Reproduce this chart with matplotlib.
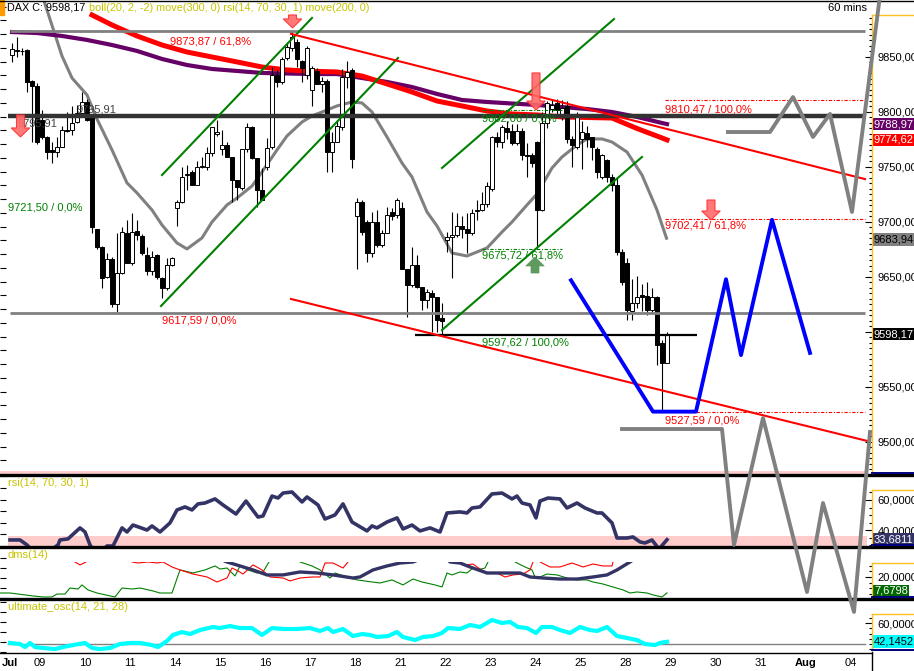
# -*- coding: utf-8 -*-
"""
DAX 60 mins chart: candles, boll / move lines, drawn trend lines,
rsi, dms and ultimate oscillator panels
"""

import numpy as np
import matplotlib
matplotlib.use("Agg")
import matplotlib.pyplot as plt
from matplotlib.lines import Line2D
from matplotlib.patches import Rectangle, Polygon
from matplotlib.ticker import FixedLocator, FuncFormatter, NullFormatter

plt.rcParams['font.family'] = ['Liberation Sans', 'DejaVu Sans']

W = 914
H = 671
DPI = 100

# ---------------- hourly candles (bar 0 = Jul 08, last bar = Jul 29) ----------------
opens = [9852, 9855, 9855.5, 9856, 9828, 9824, 9793, 9777, 9765, 9764,
         9768, 9784, 9784, 9791, 9799, 9809, 9795, 9694, 9677, 9650,
         9666, 9625, 9654, 9690, 9663, 9692, 9687, 9670, 9655, 9670,
         9649, 9640, 9661, 9713, 9718, 9743, 9745, 9734, 9750, 9750,
         9763, 9780, 9766, 9770, 9759, 9738, 9731, 9766, 9786, 9758,
         9729, 9750, 9768, 9834, 9827, 9849, 9858, 9864, 9846, 9834,
         9820, 9837, 9825, 9828, 9764, 9773, 9786, 9832, 9838, 9705,
         9718, 9700, 9672, 9700, 9679, 9690, 9709, 9706, 9713, 9657,
         9643, 9661, 9641, 9629, 9635, 9632, 9613, 9684, 9686, 9688,
         9696, 9694, 9690, 9710, 9711, 9716, 9730, 9777, 9773, 9785,
         9783, 9772, 9783, 9761, 9761, 9773, 9711, 9790, 9803, 9808,
         9795, 9805, 9775, 9768, 9775, 9781, 9777, 9766, 9741, 9756,
         9741, 9734, 9673, 9663, 9619, 9626, 9634, 9633, 9620, 9632,
         9590, 9572]
highs = [9863, 9868, 9858, 9857, 9829, 9826, 9802, 9778, 9773, 9777,
         9787, 9800, 9805, 9806, 9818, 9812, 9796, 9694, 9678, 9672,
         9668, 9690, 9695, 9702, 9708, 9702, 9689, 9677, 9674, 9671,
         9650, 9667, 9668, 9720, 9750, 9752, 9747, 9755, 9759, 9768,
         9786, 9793, 9784, 9773, 9759, 9738, 9766, 9790, 9787, 9758,
         9749, 9776, 9841, 9838, 9850, 9864, 9874, 9866, 9847, 9860,
         9842, 9840, 9832, 9830, 9782, 9793, 9839, 9846, 9840, 9722,
         9720, 9702, 9709, 9711, 9693, 9714, 9713, 9722, 9718, 9657,
         9677, 9670, 9641, 9639, 9638, 9632, 9626, 9691, 9709, 9708,
         9705, 9708, 9712, 9720, 9727, 9736, 9778, 9782, 9788, 9792,
         9789, 9789, 9785, 9772, 9763, 9774, 9800, 9810, 9811, 9812,
         9811, 9810, 9778, 9800, 9792, 9787, 9777, 9768, 9762, 9757,
         9744, 9740, 9675, 9667, 9648, 9651, 9644, 9645, 9640, 9633,
         9593, 9600]
lows = [9845, 9850, 9852, 9818, 9773, 9771, 9775, 9757, 9754, 9759,
        9768, 9782, 9779, 9790, 9796, 9792, 9690, 9675, 9640, 9649,
        9623, 9618, 9653, 9663, 9661, 9684, 9670, 9652, 9652, 9648,
        9631, 9638, 9660, 9696, 9717, 9729, 9734, 9734, 9749, 9747,
        9760, 9778, 9761, 9759, 9718, 9720, 9729, 9764, 9757, 9714,
        9720, 9747, 9766, 9823, 9825, 9847, 9855, 9841, 9827, 9830,
        9805, 9825, 9818, 9745, 9745, 9773, 9784, 9822, 9749, 9657,
        9688, 9664, 9668, 9677, 9677, 9690, 9702, 9704, 9657, 9614,
        9641, 9640, 9620, 9622, 9600, 9600, 9598, 9673, 9649, 9686,
        9685, 9672, 9688, 9702, 9710, 9714, 9728, 9768, 9767, 9775,
        9770, 9770, 9756, 9741, 9750, 9676, 9710, 9785, 9800, 9798,
        9793, 9772, 9750, 9766, 9748, 9768, 9756, 9740, 9739, 9736,
        9728, 9670, 9643, 9611, 9611, 9622, 9619, 9615, 9618, 9570,
        9528, 9572]
closes = [9857, 9856, 9855, 9827, 9824, 9773, 9777, 9764, 9764, 9768,
          9784, 9783, 9790, 9799, 9809, 9793, 9695, 9677, 9649, 9666,
          9625, 9654, 9691, 9663, 9691, 9688, 9672, 9655, 9668, 9650,
          9640, 9661, 9667, 9718, 9741, 9744, 9734, 9750, 9751, 9763,
          9786, 9782, 9770, 9759, 9738, 9732, 9766, 9786, 9758, 9729,
          9720, 9767, 9834, 9827, 9848, 9859, 9868, 9848, 9840, 9858,
          9840, 9825, 9828, 9764, 9773, 9787, 9832, 9836, 9757, 9718,
          9691, 9672, 9700, 9679, 9690, 9706, 9705, 9720, 9657, 9643,
          9661, 9641, 9629, 9636, 9632, 9611, 9610, 9686, 9688, 9696,
          9694, 9690, 9708, 9711, 9716, 9733, 9777, 9773, 9786, 9782,
          9772, 9783, 9761, 9760, 9754, 9711, 9790, 9808, 9806, 9802,
          9804, 9775, 9770, 9795, 9782, 9775, 9768, 9745, 9761, 9741,
          9734, 9673, 9645, 9620, 9626, 9632, 9632, 9620, 9632, 9588,
          9572, 9598]

# move(300,0) and move(200,0)
ma300_x = [0, 5, 10, 15, 20, 25, 30, 35, 40, 45, 50, 55, 60, 65, 70, 75, 80,
           85, 90, 95, 100, 105, 110, 115, 120, 125, 130, 131]
ma300 = [9872.7, 9871.8, 9869.1, 9865.5, 9860.9, 9855.5, 9848.2, 9842.7, 9839.1,
         9837.3, 9835.5, 9835.0, 9834.5, 9834.5, 9830.9, 9827.3, 9822.7, 9816.4,
         9810.9, 9809.1, 9807.7, 9806.4, 9804.5, 9802.7, 9800.0, 9795.5, 9790.0,
         9788.97]
ma200_x = [16, 20, 25, 30, 35, 40, 45, 50, 55, 60, 65, 70, 75, 80, 85, 90, 95,
           100, 105, 110, 115, 120, 125, 130, 131]
ma200 = [9888.2, 9879.1, 9869.1, 9860.9, 9854.5, 9850.0, 9845.5, 9840.9, 9838.2,
         9837.0, 9836.4, 9832.7, 9825.5, 9818.2, 9810.0, 9805.5, 9800.9, 9798.2,
         9797.3, 9795.5, 9795.0, 9794.5, 9785.0, 9776.4, 9774.62]
# boll(20,2,-2) middle
boll_x = [5, 7, 10, 12, 15, 17, 20, 23, 25, 28, 30, 33, 35, 38, 40, 43, 45, 48,
          50, 53, 55, 58, 60, 63, 65, 68, 70, 72, 75, 78, 80, 83, 85, 88, 91, 95,
          98, 100, 103, 105, 108, 110, 113, 115, 118, 120, 123, 126, 129, 131]
boll_mid = [9920, 9892.7, 9850.9, 9830.9, 9815.5, 9793.6, 9765.5, 9735.5, 9726.4,
            9710.9, 9697.3, 9680.9, 9675.5, 9685.5, 9700.0, 9715.5, 9721.8, 9732.7,
            9745.5, 9765.5, 9778.2, 9790.9, 9796.4, 9801.8, 9805.5, 9809.1, 9808.2,
            9800.0, 9777.3, 9753.6, 9740.9, 9709.1, 9696.4, 9671.8, 9669.1, 9676.4,
            9690.9, 9700.0, 9715.5, 9725.5, 9749.1, 9759.1, 9770.0, 9775.5, 9775.5,
            9772.7, 9763.6, 9742.7, 9710.9, 9683.94]

# rsi(14,70,30,1)
rsi_x = [-0.4, 1.6, 3, 4.2, 6.6, 9.2, 9.6, 11.2, 13.6, 14.6, 15.6, 17, 19, 20.2,
         22, 23, 24.2, 27, 28, 29.6, 31.6, 33, 34.6, 36, 37.2, 38.6, 40.6, 42.2,
         44.8, 46.8, 49.2, 50.2, 52, 53.2, 54.2, 56, 58, 59, 61.2, 62.6, 64.6,
         66.2, 68, 71, 72, 73, 75, 77, 78.2, 80, 81.6, 83.6, 85.6, 87, 89.6, 91,
         92, 93.6, 96, 98, 100, 101, 102, 103.6, 104.8, 105.6, 107.2, 109.6, 111,
         113, 114.6, 117, 118, 120, 121, 123, 124.2, 125.6, 126.6, 128, 129.4, 131]
rsi = [33.5, 33.5, 30.2, 26, 24, 30.2, 33.5, 34.2, 41.5, 38.8, 30.2, 23, 29.5,
       29.5, 41.5, 38.8, 43.4, 40.1, 42.8, 38.8, 44.8, 53.4, 55.4, 53.4, 57.4,
       58.0, 60.7, 56.7, 50.7, 59.3, 48.7, 49.4, 62.6, 61.3, 64.6, 65.3, 58.7,
       62.0, 56.7, 47.4, 50.1, 57.4, 45.4, 39.5, 42.8, 41.5, 45.4, 48.1, 40.8,
       43.4, 39.5, 41.5, 38.8, 51.4, 52.1, 51.4, 54.7, 55.4, 64.0, 64.6, 60.7,
       62.6, 58.0, 56.7, 48.1, 59.3, 61.3, 60.7, 54.7, 58.0, 54.7, 51.4, 51.4,
       44.8, 34.8, 34.8, 35.5, 32.2, 31.5, 33.5, 27.5, 33.68]

# dms(14): green line, red line, adx
dms_green_x = [-2.4, -0.4, 4.2, 6.2, 8, 9, 10.6, 11.6, 13.2, 14, 15.2, 17, 20.6,
               22, 24, 25.6, 28.2, 29.6, 32, 33.6, 36.2, 38.6, 40.6, 41.6, 43,
               44.6, 45.6, 47.2, 49, 50.2, 51.4, 53.6, 55.6, 57.6, 60, 61.6, 63.6,
               64.6, 67, 69, 72, 73.6, 76, 78.2, 80.2, 82, 84.6, 86, 87, 88, 89.6,
               91, 92.2, 93.2, 94.6, 95.2, 96.6, 99.2, 100.6, 102.6, 104, 104.6,
               105.6, 107, 109, 111, 113, 115, 116.2, 118.2, 120.2, 122.2, 123.6,
               125, 127, 128.2, 130, 131]
dms_green = [5.9, 5.9, 3.3, 2.4, 2.4, 5.0, 5.0, 10.3, 9.4, 13.0, 8.6, 5.9, 2.4,
             10.3, 9.4, 10.3, 7.7, 5.9, 5.9, 26.2, 23.5, 26.2, 29.7, 27.0, 27.9,
             20.9, 29.7, 26.2, 23.5, 24.4, 33.2, 48, 48, 33.2, 29.7, 26.2, 19.1,
             23.5, 20.0, 17.4, 15.6, 14.7, 17.4, 13.0, 18.2, 15.6, 13.0, 11.2, 23.5,
             21.8, 24.4, 23.5, 27.9, 26.2, 27.9, 33.2, 44, 44, 33.2, 28.8, 26.2,
             20.0, 20.0, 22.6, 21.8, 19.1, 17.4, 17.4, 15.6, 13.8, 11.2, 8.6, 5.9,
             6.8, 5.9, 4.2, 2.4, 6.0]
dms_red_x = [-2.4, 9.6, 12.6, 13.6, 14.8, 16.6, 22.6, 24, 25.2, 27.2, 29, 30.2,
             32, 33.6, 36.2, 39, 41, 43, 44, 45.2, 46.2, 48.2, 50, 51.6, 54.2,
             55.6, 57.6, 60, 61.6, 62.6, 64.2, 66.2, 67.2, 69.6, 87.6, 89.6, 90.6,
             92.2, 93.6, 95.2, 97, 98.6, 100.2, 102.2, 103.6, 104.2, 104.8, 105.4,
             105.6, 107.6, 109.6, 112, 114.2, 116.2, 118.2, 120, 120.2, 120.8, 131]
dms_red = [45, 45, 33.2, 30.6, 33.2, 45, 45, 33.2, 32.3, 33.2, 32.3, 33.2, 28.8,
           26.2, 22.6, 20.0, 15.6, 19.1, 27.9, 25.3, 22.6, 30.6, 26.2, 20.0, 19.1,
           16.5, 19.1, 20.0, 20.0, 32.3, 32.3, 27.9, 33.2, 45, 45, 33.2, 30.6, 31.4,
           27.0, 23.5, 23.5, 20.0, 21.8, 22.6, 26.2, 33.2, 45, 45, 33.2, 28.8, 28.8,
           32.3, 28.8, 31.4, 29.7, 29.7, 33.2, 45, 45]
dms_adx_x = [38, 43, 45.6, 48.2, 51, 54.2, 57.6, 61, 64.2, 68.2, 69.6, 72.2, 75,
             77.6, 80.2, 83.6, 86.6, 87.6, 89.6, 91.6, 95, 99, 101.6, 103.6, 106.2,
             109.6, 113, 116.2, 119, 121, 123.6, 125.6]
dms_adx = [42, 33.2, 29.7, 26.2, 21.8, 21.8, 24.4, 23.5, 21.8, 19.1, 20.0, 26.2,
           29.7, 32.3, 33.2, 39, 39, 33.2, 32.3, 28.8, 23.5, 23.5, 23.5, 20.0, 19.1,
           18.2, 18.2, 20.0, 21.8, 26.2, 33.2, 39]

# ultimate_osc(14,21,28)
uo_x = [-0.4, 1.6, 2.6, 3.6, 4.6, 6.2, 8.6, 10.2, 12.2, 14.6, 16, 17.6, 19.6,
        21.6, 23.6, 25.6, 28, 29.2, 31, 32.2, 34, 35.6, 37.6, 40.2, 41.6, 43.6,
        45.6, 48, 50, 52, 54.2, 57, 59.6, 61.6, 63.2, 64.2, 66.2, 68.2, 70, 71.6,
        73, 75.2, 77, 78.2, 80.6, 82.2, 84.2, 86, 87.2, 89.6, 91.6, 93.6, 96, 98,
        99.6, 101.2, 103, 104.8, 106, 108, 109.6, 111.6, 113.6, 115.6, 117, 119,
        121, 123, 125, 126.6, 128.6, 129.6, 131]
uo = [41.0, 40.0, 37.1, 41.0, 37.1, 36.2, 35.2, 37.1, 39.0, 41.0, 36.2, 35.2,
      36.2, 40.0, 41.0, 41.0, 39.0, 37.1, 42.9, 48.6, 51.4, 49.5, 53.3, 56.2, 55.2,
      57.1, 55.2, 55.2, 48.6, 55.2, 54.3, 54.3, 55.2, 52.4, 55.2, 51.4, 54.3, 47.6,
      49.5, 48.6, 46.7, 47.6, 51.4, 46.7, 43.8, 46.7, 47.6, 50.5, 55.2, 54.3, 58.1,
      56.2, 62.9, 60.0, 61.0, 56.2, 55.2, 50.5, 56.2, 56.2, 53.3, 50.5, 56.2, 53.3,
      52.4, 56.2, 47.6, 45.7, 43.8, 40.0, 39.0, 41.0, 42.15]

day_labels = ['Jul', '09', '10', '11', '14', '15', '16', '17', '18', '21', '22',
              '23', '24', '25', '28', '29', '30', '31', 'Aug', '04']
day_pos = [-0.4] + list(5.6 + 9.01 * np.arange(19))

# ---------------- drawn objects ----------------
h_levels = [(9873.87, -0.4, 170.6, '#808080', 2.0),
            (9795.91, -0.8, 170.6, '#333333', 3.2),
            (9617.59, -0.4, 170.6, '#808080', 2.0),
            (9597.62, 80.6, 137.0, 'black', 1.6)]
green_lines = [((29.8, 9623.6), (77.2, 9849.1)),
               ((30.0, 9742.7), (60.0, 9885.5)),
               ((86.0, 9601.8), (126.0, 9759.1)),
               ((86.0, 9749.1), (120.4, 9884.5))]
red_lines = [((55.8, 9871.0), (170.6, 9739.0)),
             ((55.8, 9630.0), (171.0, 9501.0))]
blue_x = [111.8, 128.2, 136.8, 142.8, 145.8, 152.0, 159.6]
blue_y = [9647.0, 9527.6, 9527.6, 9648.0, 9579.0, 9702.0, 9581.0]
gray_low_x = [122.0, 142.0, 144.4, 150.2, 159.0, 162.2, 168.4, 171.6]
gray_low_y = [9511.8, 9511.8, 9406.4, 9521.8, 9363.6, 9444.5, 9345.5, 9509.1]
gray_high_x = [143.2, 151.6, 156.2, 160.2, 163.6, 168.0, 174.0]
gray_high_y = [9781.8, 9781.8, 9813.6, 9777.3, 9798.2, 9709.1, 9920.0]

fib_dots = [(9802.06, 94, 110, '#008000'), (9675.72, 94, 110, '#008000'),
            (9810.47, 130.6, 170.6, '#ff0000'), (9702.41, 130.6, 170.6, '#ff0000'),
            (9527.59, 130.6, 170.6, '#ff0000')]
fib_texts = [(31.6, 9864.5, '9873,87 / 61,8%', '#ff0000'),
             (30.0, 9610.0, '9617,59 / 0,0%', '#ff0000'),
             (-0.8, 9713.6, '9721,50 / 0,0%', '#008000'),
             (13.0, 9802.7, '9795,91', '#404040'),
             (1.2, 9789.1, '9795,91', '#404040'),
             (94.0, 9794.5, '9802,06 / 0,0%', '#008000'),
             (94.0, 9669.1, '9675,72 / 61,8%', '#008000'),
             (94.0, 9590.0, '9597,62 / 100,0%', '#008000'),
             (130.6, 9802.7, '9810,47 / 100,0%', '#ff0000'),
             (130.6, 9696.4, '9702,41 / 61,8%', '#ff0000'),
             (130.6, 9519.1, '9527,59 / 0,0%', '#ff0000')]
# (x, tip, tail, colour)
arrows = [(56.1, 9876.4, 9888.2, 'red'),
          (104.8, 9801.8, 9835.5, 'red'),
          (139.8, 9701.8, 9720.0, 'red'),
          (1.7, 9777.3, 9797.3, 'red'),
          (104.6, 9668.2, 9653.6, 'green')]

last_main = [(9788.97, '#660066', 'white'), (9774.62, '#ff0000', 'white'),
             (9683.94, '#808080', 'black'), (9598.17, 'black', 'white')]

XMIN, XMAX = -2.4, 172.0
OLIVE = '#c8c400'
YELLOW = '#ffc020'


def pxAxes(fig, top, bottom, left=0, right=872):
    return fig.add_axes([left / W, 1 - bottom / H, (right - left) / W, (bottom - top) / H])


def figLine(fig, x0, y0, x1, y1, color, lw):
    fig.add_artist(Line2D([x0 / W, x1 / W], [1 - y0 / H, 1 - y1 / H],
                          transform=fig.transFigure, color=color, lw=lw))


def fmt(dec):
    pattern = "%." + str(dec) + "f"
    return FuncFormatter(lambda v, p: (pattern % v).replace('.', ','))


def setupPanel(ax, ylo, yhi, majors, minors, dec, left_step):
    ax.set_xlim(XMIN, XMAX)
    ax.set_ylim(ylo, yhi)
    for s in ax.spines.values():
        s.set_visible(False)
    ax.set_facecolor('none')
    ax.yaxis.tick_right()
    ax.yaxis.set_major_locator(FixedLocator(majors))
    ax.yaxis.set_minor_locator(FixedLocator(minors))
    ax.yaxis.set_major_formatter(fmt(dec))
    ax.tick_params(axis='y', which='major', direction='in', length=5, width=0.8,
                   labelsize=8, pad=4)
    ax.tick_params(axis='y', which='minor', direction='in', length=2.5, width=0.8)
    ax.set_xticks([])
    sec = ax.secondary_yaxis('left')
    sec.yaxis.set_major_locator(FixedLocator(np.arange(ylo, yhi, left_step)))
    sec.yaxis.set_major_formatter(NullFormatter())
    sec.tick_params(direction='in', length=4, width=0.8)
    sec.spines['left'].set_visible(False)


def valueBox(ax, y, text, fc, tc):
    ax.text(1.0 + 2.0 / 872, y, text, transform=ax.get_yaxis_transform(),
            ha='left', va='center', fontsize=8, color=tc, zorder=10, clip_on=False,
            bbox=dict(boxstyle='square,pad=0.12', fc=fc, ec='none'))


def arrow(ax, x, tip, tail, kind):
    head = 8.2 if tail > tip else -8.2
    hw, sw = 1.85, 0.8
    base = tip + head
    pts = [(x, tip), (x - hw, base), (x - sw, base), (x - sw, tail),
           (x + sw, tail), (x + sw, base), (x + hw, base)]
    if kind == 'red':
        p = Polygon(pts, closed=True, fc='#ff6a6a', ec='#ff3030', lw=0.8,
                    alpha=0.9, zorder=8)
    else:
        p = Polygon(pts, closed=True, fc='#5f9b5f', ec='#5f9b5f', lw=0.5, zorder=8)
    ax.add_patch(p)


fig = plt.figure(figsize=(W / DPI, H / DPI), dpi=DPI)
fig.patch.set_facecolor('white')

# ---------------- main price panel ----------------
ax = pxAxes(fig, 1, 474)
setupPanel(ax, 9470.9, 9900.9, np.arange(9500, 9851, 50), np.arange(9475, 9890, 5),
           2, 12.5)

ax.axhspan(9470.9, 9473.8, xmin=0, xmax=867 / 872, color='#ffcccc', lw=0, zorder=1)
ax.plot(boll_x, boll_mid, color='#808080', lw=2.2, zorder=2, solid_capstyle='butt')
ax.plot(ma300_x, ma300, color='#660066', lw=3.0, zorder=2.2)
ax.plot(ma200_x, ma200, color='#ff0000', lw=3.6, zorder=2.4)

bar_x = np.arange(len(opens))
o = np.array(opens)
c = np.array(closes)
ax.vlines(bar_x, lows, highs, color='black', lw=0.8, zorder=3)
body_colors = ['white' if cc >= oo else 'black' for oo, cc in zip(o, c)]
ax.bar(bar_x, np.maximum(np.abs(c - o), 0.9), bottom=np.minimum(o, c), width=0.7,
       color=body_colors, edgecolor='black', linewidth=0.7, zorder=3.5)

for lvl, x0, x1, col, lw in h_levels:
    ax.plot([x0, x1], [lvl, lvl], color=col, lw=lw, zorder=4, solid_capstyle='butt')
for (x0, y0), (x1, y1) in green_lines:
    ax.plot([x0, x1], [y0, y1], color='#008000', lw=1.5, zorder=4.2)
for (x0, y0), (x1, y1) in red_lines:
    ax.plot([x0, x1], [y0, y1], color='#ff0000', lw=1.5, zorder=4.2)
for lvl, x0, x1, col in fib_dots:
    ax.plot([x0, x1], [lvl, lvl], color=col, lw=0.8, ls=(0, (3, 1.5, 1, 1.5)), zorder=4.3)
ax.plot(blue_x, blue_y, color='#0000ff', lw=2.8, zorder=5)
for x, y, t, col in fib_texts:
    ax.text(x, y, t, color=col, fontsize=8, ha='left', va='center', zorder=6)
for x, tip, tail, kind in arrows:
    arrow(ax, x, tip, tail, kind)
for y, fc, tc in last_main:
    valueBox(ax, y, ("%.2f" % y).replace('.', ','), fc, tc)

# projection zigzags run over the lower panels
for xs, ys in [(gray_low_x, gray_low_y), (gray_high_x, gray_high_y)]:
    fig.add_artist(Line2D(xs, ys, transform=ax.transData, color='#808080', lw=2.8,
                          zorder=3))

# ---------------- rsi panel ----------------
ax_rsi = pxAxes(fig, 476, 546)
setupPanel(ax_rsi, 29.5, 75.9, [40, 60], np.arange(30, 70, 5), 4, 7.7)
ax_rsi.axhspan(29.5, 36.2, xmin=8 / 872, xmax=867 / 872, color='#ffcccc', lw=0, zorder=1)
ax_rsi.plot(rsi_x, rsi, color='#333366', lw=2.6, zorder=3)
valueBox(ax_rsi, 33.68, '33,6811', '#333366', 'white')

# ---------------- dms panel ----------------
ax_dms = pxAxes(fig, 548, 598)
setupPanel(ax_dms, 1.5, 45.5, [20], np.arange(5, 35, 5), 4, 8.8)
clip = Rectangle((XMIN, 1.5), XMAX - XMIN, 31.7, transform=ax_dms.transData)
for xs, ys, col, lw in [(dms_green_x, dms_green, '#008000', 0.8),
                        (dms_red_x, dms_red, '#ff0000', 0.8),
                        (dms_adx_x, dms_adx, '#333366', 2.4)]:
    ln, = ax_dms.plot(xs, ys, color=col, lw=lw, zorder=3)
    ln.set_clip_path(clip)
valueBox(ax_dms, 7.68, '7,6798', '#006600', 'white')

# ---------------- ultimate oscillator panel ----------------
ax_uo = pxAxes(fig, 600, 652)
setupPanel(ax_uo, 32.4, 81.9, [60], np.arange(35, 70, 5), 4, 9.5)
ax_uo.plot([-0.8, 170.6], [40, 40], color='#808080', lw=1.0, zorder=2)
ax_uo.plot(uo_x, uo, color='#00ffff', lw=3.0, zorder=3)
valueBox(ax_uo, 42.15, '42,1452', '#00ffff', 'black')

ax_uo.set_xticks(day_pos)
ax_uo.set_xticklabels(day_labels)
ax_uo.tick_params(axis='x', length=0, pad=4, labelsize=8)
for lab in ax_uo.get_xticklabels():
    if lab.get_text() in ('Jul', 'Aug'):
        lab.set_fontweight('bold')

# ---------------- frame, separators, right scale boxes ----------------
figLine(fig, 0, 0.5, W, 0.5, 'black', 1.0)
for y in (475, 547, 599):
    figLine(fig, 0, y, W, y, 'black', 2.4)
figLine(fig, 0, 652.5, 872, 652.5, 'black', 1.0)
figLine(fig, 872, 652, 872, H, 'black', 1.0)
for top, bot in [(15, 473), (490, 545), (563, 597), (614, 650)]:
    figLine(fig, 872, top, 872, bot, YELLOW, 1.0)
    figLine(fig, 872, top, W, top, YELLOW, 1.0)
    figLine(fig, 872, bot, W, bot, '#000080', 1.4)

fig.add_artist(Rectangle((0, 1 - 15 / H), 4 / W, 15 / H, transform=fig.transFigure,
                         color='#ff9900'))
fig.text(7 / W, 1 - 8 / H, 'DAX C: 9598,17', fontsize=7.8, color='black',
         ha='left', va='center')
fig.text(89 / W, 1 - 8 / H, 'boll(20, 2, -2) move(300, 0) rsi(14, 70, 30, 1) move(200, 0)',
         fontsize=7.8, color=OLIVE, ha='left', va='center')
fig.text(867 / W, 1 - 8 / H, '60 mins', fontsize=8, color='black', ha='right',
         va='center')
fig.text(8 / W, 1 - 483 / H, 'rsi(14, 70, 30, 1)', fontsize=8, color=OLIVE,
         ha='left', va='center')
fig.text(8 / W, 1 - 555 / H, 'dms(14)', fontsize=8, color=OLIVE, ha='left',
         va='center')
fig.text(8 / W, 1 - 607 / H, 'ultimate_osc(14, 21, 28)', fontsize=8, color=OLIVE,
         ha='left', va='center')

fig.savefig('out.png', dpi=DPI)
